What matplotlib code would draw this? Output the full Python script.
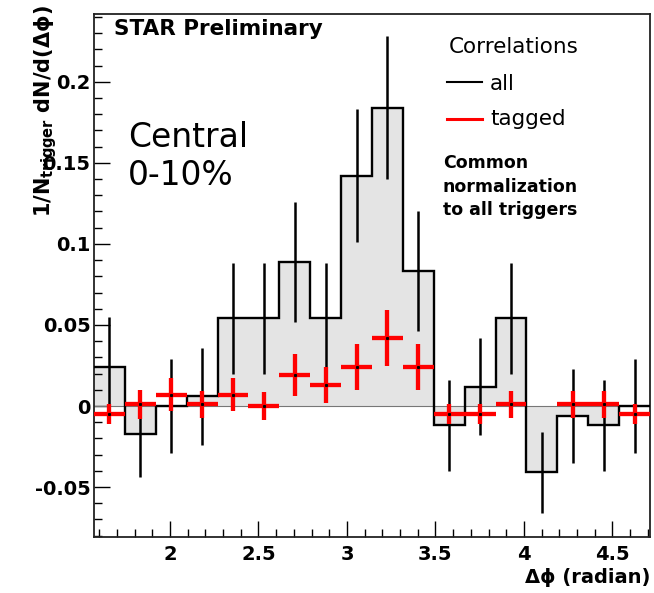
import numpy as np
import matplotlib
matplotlib.use('Agg')
import matplotlib.pyplot as plt
from matplotlib.lines import Line2D
from matplotlib.ticker import MultipleLocator, FuncFormatter

# ROOT-like look
plt.rcParams['font.family'] = 'DejaVu Sans'
plt.rcParams['mathtext.fontset'] = 'custom'
plt.rcParams['mathtext.rm'] = 'DejaVu Sans:bold'
plt.rcParams['mathtext.it'] = 'DejaVu Sans:bold'
plt.rcParams['mathtext.bf'] = 'DejaVu Sans:bold'

# 18 bins from pi/2 to 3pi/2
edges = np.linspace(np.pi / 2, 3 * np.pi / 2, 19)
centers = 0.5 * (edges[:-1] + edges[1:])
half_width = 0.5 * (edges[1] - edges[0])

# all correlations
all_vals = [0.024, -0.017, 0.000, 0.006, 0.054, 0.054, 0.089, 0.054, 0.142,
            0.184, 0.083, -0.012, 0.012, 0.054, -0.041, -0.006, -0.012, 0.000]
all_errs = [0.031, 0.027, 0.029, 0.030, 0.034, 0.034, 0.037, 0.034, 0.041,
            0.044, 0.037, 0.028, 0.030, 0.034, 0.025, 0.029, 0.028, 0.029]

# tagged correlations (bin 15 empty)
tag_vals = [-0.005, 0.001, 0.007, 0.001, 0.007, 0.000, 0.019, 0.013, 0.024,
            0.042, 0.024, -0.005, -0.005, 0.001, np.nan, 0.001, 0.001, -0.005]
tag_errs = [0.006, 0.009, 0.010, 0.0085, 0.010, 0.0085, 0.013, 0.011, 0.014,
            0.0175, 0.014, 0.006, 0.006, 0.0085, np.nan, 0.0085, 0.0085, 0.006]

W, H = 654, 593


def fx(px):
    return px / W


def fy(py):
    return 1 - py / H


fig = plt.figure(figsize=(W / 100, H / 100), dpi=100)
ax = fig.add_axes([fx(94), fy(537), fx(650) - fx(94), fy(14) - fy(537)])

ax.stairs(all_vals, edges, baseline=0, fill=True, facecolor='#e4e4e4',
          edgecolor='none', zorder=1)
ax.axhline(0, color='#777777', lw=0.8, zorder=2)
ax.stairs(all_vals, edges, baseline=None, color='black', lw=1.7, zorder=3)
ax.errorbar(centers, all_vals, yerr=all_errs, fmt='none', ecolor='black',
            elinewidth=1.8, capsize=0, zorder=4)
ax.errorbar(centers, tag_vals, xerr=half_width, yerr=tag_errs, fmt='none',
            ecolor='red', elinewidth=3.1, capsize=0, zorder=5)
ax.plot(centers, tag_vals, 's', color='black', ms=1.2, zorder=6)

ax.set_xlim(np.pi / 2, 3 * np.pi / 2)
ax.set_ylim(-0.0808, 0.2418)

ax.xaxis.set_major_locator(MultipleLocator(0.5))
ax.xaxis.set_minor_locator(MultipleLocator(0.1))
ax.yaxis.set_major_locator(MultipleLocator(0.05))
ax.yaxis.set_minor_locator(MultipleLocator(0.01))
fmt = FuncFormatter(lambda v, p: '%g' % round(v, 3))
ax.xaxis.set_major_formatter(fmt)
ax.yaxis.set_major_formatter(fmt)

ax.tick_params(which='both', direction='in', top=False, right=False, width=1.0)
ax.tick_params(which='major', length=11.5)
ax.tick_params(which='minor', length=5.8)
ax.tick_params(axis='x', which='major', pad=5.5, labelsize=14)
ax.tick_params(axis='y', which='major', pad=2.5, labelsize=14)
for lab in ax.get_xticklabels() + ax.get_yticklabels():
    lab.set_fontweight('bold')
for sp in ax.spines.values():
    sp.set_linewidth(1.3)
    sp.set_color('#222222')

# axis titles
fig.text(fx(650.7), fy(582.7), 'Δϕ (radian)', ha='right', va='baseline',
         fontsize=14, fontweight='bold')
fig.text(fx(32), fy(5), r'$\mathrm{1/N_{trigger}\ dN/d(\Delta\phi)}$',
         rotation=90, ha='left', va='top', fontsize=15)

# annotations
fig.text(fx(114.3), fy(35), 'STAR Preliminary', ha='left', va='baseline',
         fontsize=15.5, fontweight='bold')
fig.text(fx(128.3), fy(147.3), 'Central', ha='left', va='baseline', fontsize=23.7)
fig.text(fx(128.3), fy(185), '0-10%', ha='left', va='baseline', fontsize=23.7)

fig.text(fx(448.3), fy(52.7), 'Correlations', ha='left', va='baseline', fontsize=15.5)
fig.text(fx(490), fy(90), 'all', ha='left', va='baseline', fontsize=15.5)
fig.text(fx(490), fy(125), 'tagged', ha='left', va='baseline', fontsize=15.5)
fig.add_artist(Line2D([fx(447.3), fx(482.3)], [fy(81.7), fy(81.7)],
                      color='black', lw=1.5))
fig.add_artist(Line2D([fx(447.3), fx(482.3)], [fy(119.3), fy(119.3)],
                      color='red', lw=2.2))

for txt, base in [('Common', 168.3), ('normalization', 191.7),
                  ('to all triggers', 215)]:
    fig.text(fx(442.7), fy(base), txt, ha='left', va='baseline',
             fontsize=12.5, fontweight='bold')

fig.savefig('out.png', dpi=100)
